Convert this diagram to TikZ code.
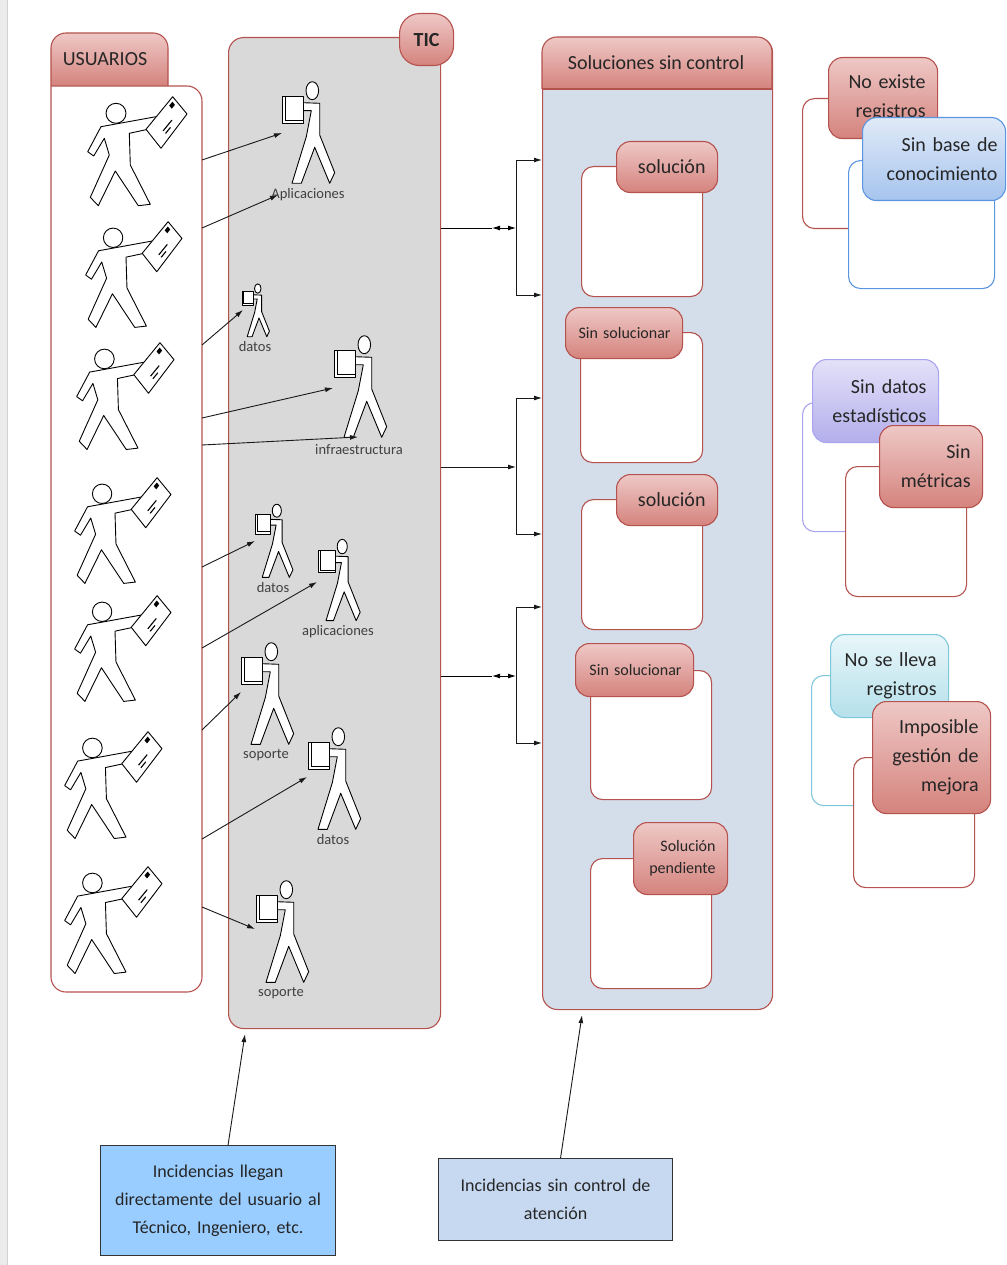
\documentclass[tikz,border=0pt]{standalone}
\usepackage{fontspec}
\setmainfont{Carlito}
\usetikzlibrary{arrows.meta,calc,positioning}

\definecolor{redline}{HTML}{B5524E}
\definecolor{redtop}{HTML}{EEC8C6}
\definecolor{redbot}{HTML}{D5837D}
\definecolor{blueline}{HTML}{5B95E0}
\definecolor{bluetop}{HTML}{E0EAF8}
\definecolor{bluebot}{HTML}{A6C4EE}
\definecolor{violetline}{HTML}{A9A4F0}
\definecolor{violettop}{HTML}{E4E1F9}
\definecolor{violetbot}{HTML}{B3AEEB}
\definecolor{cyanline}{HTML}{7EC8DB}
\definecolor{cyantop}{HTML}{E8F6F9}
\definecolor{cyanbot}{HTML}{B5E0EB}
\definecolor{ticgray}{HTML}{D9D9D9}
\definecolor{solblue}{HTML}{D4DEEA}
\definecolor{note1}{HTML}{99CCFF}
\definecolor{note2}{HTML}{C6D9F1}
\definecolor{ink}{HTML}{262626}
\definecolor{whogray}{HTML}{404040}

\newcommand\hdrfont{\fontsize{20}{24}\selectfont}
\newcommand\tabfont{\fontsize{20}{29}\selectfont}
\newcommand\smalltabfont{\fontsize{16}{22}\selectfont}
\newcommand\notefont{\fontsize{18}{28}\selectfont}
\newcommand\whofont{\fontsize{14.5}{16}\selectfont}

\begin{document}
\begin{tikzpicture}[x=1pt,y=-1pt,>={Latex[length=8pt,width=5pt]}]
\tikzset{
  pane/.style={draw=redline, line width=1.1pt, rounded corners=15pt, anchor=north west, inner sep=0pt},
  card/.style={draw=#1, line width=1.1pt, fill=white, rounded corners=12pt, anchor=north west, inner sep=0pt},
  card/.default=redline,
  tab/.style n args={3}{draw=#1, line width=1.1pt, top color=#2, bottom color=#3,
    rounded corners=14pt, anchor=north west, inner xsep=12pt, inner ysep=0pt,
    align=right, text=ink, font=\tabfont},
  redtab/.style={tab={redline}{redtop}{redbot}},
  bluetab/.style={tab={blueline}{bluetop}{bluebot}},
  violettab/.style={tab={violetline}{violettop}{violetbot}},
  cyantab/.style={tab={cyanline}{cyantop}{cyanbot}},
  hdr/.style={font=\hdrfont, text=ink, inner sep=0pt},
  note/.style={draw=black!80, line width=1.1pt, anchor=north west, inner xsep=0pt,
    align=center, font=\notefont, text=ink},
  who/.style={font=\whofont, text=whogray, inner sep=0pt},
  figline/.style={draw=black, fill=white, line width=0.9pt, line join=round},
  link/.style={->, line width=0.9pt, draw=black!90},
  % person walking with a letter
  sender/.pic={
    \draw[figline] (15,30.7) -- (70,20.7) -- (71.7,25.7) -- (63.3,33) -- (43.3,37.3)
      -- (44.3,69) -- (64.3,108.3) -- (52.3,109.7) -- (29.3,75) -- (12.3,109.7)
      -- (4.3,101.3) -- (23.3,59) -- (18.3,42.3) -- (7.7,60) -- (1.7,55.7) -- cycle;
    \draw[figline] (30,17.3) circle[radius=10];
    \draw[figline] (60,33.3) -- (86.7,0.7) -- (101,18) -- (75,52.3) -- cycle;
    \fill (88.9,8.8) -- (86.4,5.7) -- (83.2,9.6) -- (85.8,12.7) -- cycle;
    \draw[line width=1.1pt] (77.1,34.9) -- (85.9,24.1);
    \draw[line width=1.1pt] (79.5,37.5) -- (84.5,31.4);
  },
  % person carrying a box
  worker/.pic={
    \draw[figline] (21,22.7) -- (37.7,23.3) -- (37.7,55) -- (52.7,92.7) -- (47.7,103.3)
      -- (32.7,67.3) -- (19.3,103.3) -- (10,103.3) -- (24.3,56.7) -- (29.3,30.7)
      -- (21,30.7) -- cycle;
    \draw[figline] (30.3,10.7) ellipse[x radius=6.3, y radius=9];
    \draw[figline] (0,16) rectangle (21.7,43.3);
    \draw[line width=0.9pt] (3,16) -- (3,40) -- (21.7,40);
  },
}
\useasboundingbox (0,0) rectangle (1006,1265);
\fill[black!8] (0,0) rectangle (7,1265);
\draw[black!18] (7,0) -- (7,1265);

% USUARIOS
\path[draw=redline, line width=1.1pt, top color=redtop, bottom color=redbot, rounded corners=15pt]
  (51,86) -- (51,33) -- (168,33) -- (168,86);
\path[draw=redline, line width=1.1pt, fill=white, rounded corners=15pt]
  (51,86) -- (202,86) -- (202,992) -- (51,992) -- (51,86);
\node[hdr] (usrtitle) at (105,59) {USUARIOS};

% TIC
\node[pane, fill=ticgray, minimum width=212pt, minimum height=991pt] (tic) at (228,37) {};
\node[redtab, rounded corners=20pt, minimum width=54pt, minimum height=52pt, align=center,
  inner xsep=0pt, font=\tabfont\bfseries] (tictab) at (399,13) {TIC};

% Soluciones sin control
\node[pane, fill=solblue, minimum width=230pt, minimum height=972pt] (sol) at (542,37) {};
\path[draw=redline, line width=1.1pt, top color=redtop, bottom color=redbot, rounded corners=15pt]
  (542,89) -- (542,37) -- (772,37) -- (772,89);
\draw[redline, line width=1.1pt] (542,89) -- (772,89);
\node[hdr] (soltitle) at (656,63) {Soluciones sin control};

\node[card, minimum width=121pt, minimum height=130pt] (c1) at (581,166) {};
\node[redtab, minimum width=101pt, minimum height=51pt, text width=77pt] (t1) at (616,141) {solución};
\node[card, minimum width=122pt, minimum height=130pt] (c2) at (580,332) {};
\node[redtab, minimum width=117pt, minimum height=51pt, text width=93pt, font=\smalltabfont] (t2) at (565,307) {Sin solucionar};
\node[card, minimum width=121pt, minimum height=130pt] (c3) at (581,499) {};
\node[redtab, minimum width=101pt, minimum height=51pt, text width=77pt] (t3) at (616,474) {solución};
\node[card, minimum width=121pt, minimum height=129pt] (c4) at (590,670) {};
\node[redtab, minimum width=118pt, minimum height=53pt, text width=94pt, font=\smalltabfont] (t4) at (575,643) {Sin solucionar};
\node[card, minimum width=121pt, minimum height=130pt] (c5) at (590,858) {};
\node[redtab, minimum width=94pt, minimum height=72pt, text width=70pt, font=\smalltabfont] (t5) at (633,822) {Solución\\pendiente};

% right hand groups
\node[card, minimum width=125pt, minimum height=130pt] (r1) at (802,98) {};
\node[redtab, minimum width=109pt, minimum height=81pt, text width=85pt] (rt1) at (828,57) {No existe\\registros};
\node[card=blueline, minimum width=146pt, minimum height=128pt] (r2) at (848,160) {};
\node[bluetab, minimum width=143pt, minimum height=83pt, text width=127pt, inner xsep=8pt] (rt2) at (862,117) {Sin base de\\conocimiento};

\node[card=violetline, minimum width=120pt, minimum height=129pt] (r3) at (802,402) {};
\node[violettab, minimum width=126pt, minimum height=83pt, text width=102pt] (rt3) at (812,359) {Sin datos\\estadísticos};
\node[card, minimum width=121pt, minimum height=130pt] (r4) at (845,466) {};
\node[redtab, minimum width=103pt, minimum height=82pt, text width=79pt] (rt4) at (879,425) {Sin\\métricas};

\node[card=cyanline, minimum width=120pt, minimum height=130pt] (r5) at (811,675) {};
\node[cyantab, minimum width=118pt, minimum height=83pt, text width=94pt] (rt5) at (830,634) {No se lleva\\registros};
\node[card, minimum width=121pt, minimum height=130pt] (r6) at (853,757) {};
\node[redtab, minimum width=118pt, minimum height=112pt, text width=94pt] (rt6) at (872,701) {Imposible\\gestión de\\mejora};

% users
\path (86,96) pic (p1) {sender};
\path (84,221) pic[scale=0.97] (p2) {sender};
\path (75,342) pic[scale=0.98] (p3) {sender};
\path (73,477) pic[scale=0.97] (p4) {sender};
\path (73,595) pic[scale=0.97] (p5) {sender};
\path (63,731) pic[scale=0.98] (p6) {sender};
\path (63,866) pic[scale=0.98] (p7) {sender};

% staff
\path (282,80) pic (w1) {worker};
\path (242,283) pic[scale=0.52] (w2) {worker};
\path (334,334) pic (w3) {worker};
\path (255,503) pic[scale=0.72] (w4) {worker};
\path (318,538) pic[scale=0.8] (w5) {worker};
\path (241,641) pic (w6) {worker};
\path (308,726) pic (w7) {worker};
\path (256,879) pic (w8) {worker};

\node[who] (l1) at (308,195) {Aplicaciones};
\node[who] (l2) at (255,347) {datos};
\node[who] (l3) at (359,450) {infraestructura};
\node[who] (l4) at (273,588) {datos};
\node[who] (l5) at (338,632) {aplicaciones};
\node[who] (l6) at (266,755) {soporte};
\node[who] (l7) at (333,840) {datos};
\node[who] (l8) at (281,993) {soporte};

% user -> staff
\coordinate (from1) at (202,160);  \coordinate (to1) at (282,133);
\coordinate (from2) at (202,228);  \coordinate (to2) at (278,195);
\coordinate (from3) at (202,345);  \coordinate (to3) at (243,310);
\coordinate (from4) at (202,418);  \coordinate (to4) at (333,388);
\coordinate (from5) at (202,445);  \coordinate (to5) at (358,437);
\coordinate (from6) at (202,567);  \coordinate (to6) at (255,541);
\coordinate (from7) at (202,648);  \coordinate (to7) at (317,582);
\coordinate (from8) at (202,730);  \coordinate (to8) at (241,692);
\coordinate (from9) at (202,839);  \coordinate (to9) at (307,777);
\coordinate (from10) at (202,907); \coordinate (to10) at (255,929);
\draw[link] (from1) -- (to1);
\draw[link] (from2) -- (to2);
\draw[link] (from3) -- (to3);
\draw[link] (from4) -- (to4);
\draw[link] (from5) -- (to5);
\draw[link] (from6) -- (to6);
\draw[link] (from7) -- (to7);
\draw[link] (from8) -- (to8);
\draw[link] (from9) -- (to9);
\draw[link] (from10) -- (to10);

% TIC -> soluciones
\coordinate (j1) at (516,228); \coordinate (m1) at (492,228);
\coordinate (s1a) at (542,160); \coordinate (s1b) at (542,295);
\coordinate (j2) at (516,467);
\coordinate (s2a) at (542,398); \coordinate (s2b) at (542,534);
\coordinate (j3) at (516,676); \coordinate (m3) at (492,676);
\coordinate (s3a) at (542,607); \coordinate (s3b) at (542,743);
\draw[line width=0.9pt] (tic.east |- j1) -- (m1);
\draw[<->, line width=0.9pt] (m1) -- (j1);
\draw[link] (j1) |- (s1a);
\draw[link] (j1) |- (s1b);
\draw[link] (tic.east |- j2) -- (j2);
\draw[link] (j2) |- (s2a);
\draw[link] (j2) |- (s2b);
\draw[line width=0.9pt] (tic.east |- j3) -- (m3);
\draw[<->, line width=0.9pt] (m3) -- (j3);
\draw[link] (j3) |- (s3a);
\draw[link] (j3) |- (s3b);

% notes
\node[note, fill=note1, minimum width=235pt, minimum height=110pt, text width=235pt] (n1) at (100,1145)
  {Incidencias llegan\\directamente del usuario al\\Técnico, Ingeniero, etc.};
\node[note, fill=note2, minimum width=234pt, minimum height=82pt, text width=234pt] (n2) at (438,1158)
  {Incidencias sin control de\\atención};
\draw[link] ($(n1.north)+(10,0)$) -- ($(tic.south west)+(17,5)$);
\draw[link] ($(n2.north)+(5,0)$) -- ($(sol.south west)+(40,5)$);
\end{tikzpicture}
\end{document}
